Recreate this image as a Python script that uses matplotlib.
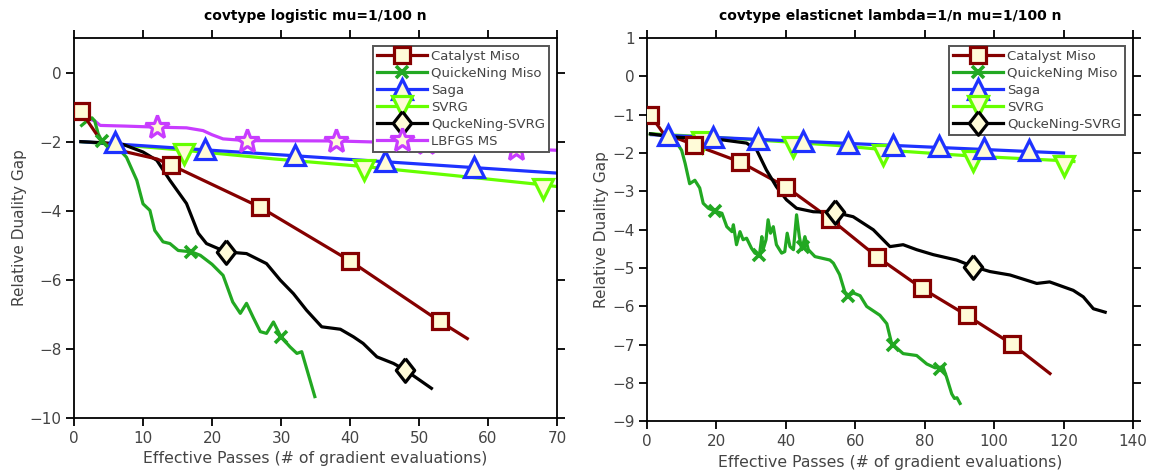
import matplotlib
matplotlib.use("Agg")
import matplotlib.pyplot as plt
from matplotlib.lines import Line2D

plt.rcParams['font.family'] = ['DejaVu Sans']

# ---------------- left: covtype logistic ----------------
cat_l_x = [1, 4, 7.6, 12, 14, 27, 40, 53, 57]
cat_l_y = [-1.12, -2.0, -2.3, -2.5, -2.67, -3.9, -5.45, -7.2, -7.7]
cat_l_mx = [1, 14, 27, 40, 53]
cat_l_my = [-1.12, -2.67, -3.9, -5.45, -7.2]

qm_l_x = [1.1, 2.0, 2.6, 3.0, 3.5, 4.0, 4.5, 5.2, 6.9, 7.6, 9.1, 10.0, 11.0, 11.7,
          12.9, 13.9, 15.1, 17.0, 18.3, 20.0, 21.6, 23.0, 24.1, 25.0, 26.0, 27.0,
          27.9, 28.9, 30.0, 31.3, 32.3, 33.0, 34.9]
qm_l_y = [-1.53, -1.38, -1.31, -1.4, -1.77, -1.97, -2.05, -2.16, -2.3, -2.45, -3.12,
          -3.8, -3.99, -4.57, -4.9, -4.95, -5.15, -5.19, -5.29, -5.55, -5.87, -6.64,
          -6.97, -6.68, -7.1, -7.5, -7.55, -7.22, -7.65, -7.94, -8.13, -8.08, -9.38]
qm_l_mx = [4.0, 17.0, 30.0]
qm_l_my = [-1.97, -5.19, -7.65]

saga_l_x = [1, 70]
saga_l_y = [-2.0, -2.91]
saga_l_mx = [6, 19, 32, 45, 58]
saga_l_my = [-2.02, -2.2, -2.4, -2.57, -2.74]

svrg_l_x = [1, 6, 16, 29, 42, 55, 68, 70]
svrg_l_y = [-2.0, -2.08, -2.25, -2.5, -2.72, -2.98, -3.25, -3.3]
svrg_l_mx = [16, 42, 68]
svrg_l_my = [-2.36, -2.83, -3.36]

qs_l_x = [1, 4, 7.1, 10, 12, 13.9, 16.3, 18.0, 19.2, 22, 25, 27.9, 29.9, 31.8, 33.7,
          35.9, 38.6, 40.5, 41.9, 43.9, 46.3, 48, 51.8]
qs_l_y = [-2.0, -2.03, -2.08, -2.3, -2.54, -3.12, -3.79, -4.65, -4.95, -5.19, -5.24,
          -5.53, -6.01, -6.4, -6.88, -7.36, -7.43, -7.65, -7.84, -8.23, -8.42, -8.61,
          -9.14]
qs_l_mx = [22, 48]
qs_l_my = [-5.19, -8.61]

lb_l_x = [2, 3, 3.8, 7.5, 12, 16.3, 18.7, 20, 21.6, 25, 38, 51, 64, 70]
lb_l_y = [-1.33, -1.4, -1.53, -1.55, -1.58, -1.6, -1.68, -1.8, -1.92, -1.97, -1.98,
          -2.05, -2.2, -2.25]
lb_l_mx = [12, 25, 38, 51, 64]
lb_l_my = [-1.58, -1.97, -1.98, -2.05, -2.2]

# ---------------- right: covtype elasticnet ----------------
cat_r_x = [0.9, 4.7, 13.5, 26.8, 40.2, 52.7, 66.2, 79.1, 92.1, 105.3, 116.1]
cat_r_y = [-1.0, -1.48, -1.78, -2.23, -2.89, -3.71, -4.7, -5.52, -6.23, -6.99, -7.75]
cat_r_mx = [0.9, 13.5, 26.8, 40.2, 52.7, 66.2, 79.1, 92.1, 105.3]
cat_r_my = [-1.0, -1.78, -2.23, -2.89, -3.71, -4.7, -5.52, -6.23, -6.99]

qm_r_x = [1, 4, 7.5, 10, 11, 12.3, 13.8, 15.2, 16.2, 17.7, 19.7, 21.6, 23.0, 24.5,
          24.9, 25.8, 26.8, 27.7, 28.7, 30.1, 31.1, 32.4, 33.1, 33.5, 34.3, 34.9,
          35.6, 36.4, 37.3, 38.8, 39.7, 40.4, 41.2, 42.2, 43.1, 43.9, 44.6, 45.5,
          46.5, 48.4, 52.7, 53.7, 55.5, 57.0, 58.0, 59.5, 61.4, 63.3, 67.1, 69.1,
          70.5, 73.8, 77.7, 80.6, 83.0, 85.3, 86.3, 87.8, 88.6, 89.3, 90.2]
qm_r_y = [-1.5, -1.52, -1.58, -1.93, -2.27, -2.8, -2.71, -2.91, -3.31, -3.44, -3.52,
          -3.57, -3.92, -4.05, -3.87, -4.39, -4.05, -4.26, -4.22, -4.48, -4.61, -4.66,
          -4.18, -4.5, -4.26, -3.74, -4.09, -3.92, -4.39, -4.61, -4.57, -4.09, -4.44,
          -4.52, -3.61, -4.18, -4.52, -4.18, -4.52, -4.7, -4.79, -4.87, -5.17, -5.62,
          -5.72, -5.65, -5.72, -6.0, -6.23, -6.45, -6.97, -7.23, -7.28, -7.5, -7.6,
          -7.58, -7.84, -8.28, -8.4, -8.38, -8.53]
qm_r_mx = [19.7, 32.4, 45.0, 58.0, 71.0, 84.4]
qm_r_my = [-3.52, -4.66, -4.45, -5.72, -7.0, -7.62]

saga_r_x = [1.3, 56, 120]
saga_r_y = [-1.52, -1.74, -2.0]
saga_r_mx = [6, 19, 32, 45, 58, 71, 84, 97, 110]
saga_r_my = [-1.53, -1.59, -1.64, -1.69, -1.75, -1.8, -1.82, -1.87, -1.92]

svrg_r_x = [1, 16, 42, 56, 73, 94, 120, 123]
svrg_r_y = [-1.5, -1.57, -1.72, -1.81, -1.95, -2.08, -2.2, -2.22]
svrg_r_mx = [16, 42, 68, 94, 120]
svrg_r_my = [-1.71, -1.84, -2.04, -2.22, -2.35]

qs_r_x = [1, 7.5, 22, 28.7, 31.6, 34.4, 37.3, 40.2, 43.1, 47.9, 54.2, 59.4, 65.2, 70,
          73.8, 77.7, 82.5, 89.2, 94, 98.8, 104.6, 112.3, 116, 122.8, 125.7, 128.6, 132]
qs_r_y = [-1.5, -1.58, -1.66, -1.74, -1.92, -2.44, -2.88, -3.22, -3.44, -3.53, -3.55,
          -3.66, -4.0, -4.44, -4.39, -4.52, -4.65, -4.79, -4.96, -5.09, -5.18, -5.4,
          -5.36, -5.58, -5.75, -6.06, -6.15]
qs_r_mx = [54.2, 94]
qs_r_my = [-3.55, -4.96]

# styles
FACE = '#fffbd8'
diamond = [(0, 1), (0.78, 0), (0, -1), (-0.78, 0), (0, 1)]
styles = {
    'Catalyst Miso':   dict(color='#850000', marker='s', ms=11),
    'QuickeNing Miso': dict(color='#22a822', marker='x', ms=9),
    'Saga':            dict(color='#1e32ff', marker='^', ms=14),
    'SVRG':            dict(color='#66ff00', marker='v', ms=14),
    'QuckeNing-SVRG':  dict(color='#000000', marker=diamond, ms=17),
    'LBFGS MS':        dict(color='#c83cff', marker='*', ms=18),
}


def mew_of(st):
    return 2.6 if st['marker'] == 'x' else 2.3


def draw(ax, name, x, y, mx, my):
    st = styles[name]
    ax.plot(x, y, color=st['color'], lw=2.3, solid_joinstyle='round', zorder=2)
    ax.plot(mx, my, ls='none', marker=st['marker'], ms=st['ms'], mec=st['color'],
            mfc=FACE, mew=mew_of(st), zorder=3)


def handles(names):
    out = []
    for n in names:
        st = styles[n]
        out.append(Line2D([], [], color=st['color'], lw=2.3, marker=st['marker'],
                          ms=st['ms'], mec=st['color'], mfc=FACE,
                          mew=mew_of(st), label=n))
    return out


def style_axes(ax, title, xmax, xstep, ymin, ymax, ystep):
    ax.set_xlim(0, xmax)
    ax.set_ylim(ymin, ymax)
    ax.set_xticks(range(0, xmax + 1, xstep))
    if ystep == 1:
        ax.set_yticks(range(ymin, ymax + 1, ystep))
    else:
        ax.set_yticks(range(ymin, 1, ystep))
    ax.tick_params(direction='out', length=6, width=1.3, top=True, right=True,
                   labelsize=11, labelcolor='#444444', pad=3)
    for s in ax.spines.values():
        s.set_linewidth(1.3)
    ax.set_title(title, fontsize=10, fontweight='bold', pad=13)
    ax.set_xlabel('Effective Passes (# of gradient evaluations)', fontsize=11.3,
                  color='#444444', labelpad=4)
    ax.set_ylabel('Relative Duality Gap', fontsize=11, color='#444444', labelpad=2)


fig = plt.figure(figsize=(11.53, 4.74), dpi=100)
ax1 = fig.add_axes([0.0642, 0.1181, 0.4189, 0.8017])
ax2 = fig.add_axes([0.5611, 0.1108, 0.4215, 0.8090])

draw(ax1, 'LBFGS MS', lb_l_x, lb_l_y, lb_l_mx, lb_l_my)
draw(ax1, 'SVRG', svrg_l_x, svrg_l_y, svrg_l_mx, svrg_l_my)
draw(ax1, 'Saga', saga_l_x, saga_l_y, saga_l_mx, saga_l_my)
draw(ax1, 'QuckeNing-SVRG', qs_l_x, qs_l_y, qs_l_mx, qs_l_my)
draw(ax1, 'QuickeNing Miso', qm_l_x, qm_l_y, qm_l_mx, qm_l_my)
draw(ax1, 'Catalyst Miso', cat_l_x, cat_l_y, cat_l_mx, cat_l_my)
style_axes(ax1, 'covtype logistic mu=1/100 n', 70, 10, -10, 1, 2)

draw(ax2, 'SVRG', svrg_r_x, svrg_r_y, svrg_r_mx, svrg_r_my)
draw(ax2, 'Saga', saga_r_x, saga_r_y, saga_r_mx, saga_r_my)
draw(ax2, 'QuickeNing Miso', qm_r_x, qm_r_y, qm_r_mx, qm_r_my)
draw(ax2, 'Catalyst Miso', cat_r_x, cat_r_y, cat_r_mx, cat_r_my)
draw(ax2, 'QuckeNing-SVRG', qs_r_x, qs_r_y, qs_r_mx, qs_r_my)
style_axes(ax2, 'covtype elasticnet lambda=1/n mu=1/100 n', 140, 20, -9, 1, 1)

names = ['Catalyst Miso', 'QuickeNing Miso', 'Saga', 'SVRG', 'QuckeNing-SVRG', 'LBFGS MS']
for ax, nn in ((ax1, names), (ax2, names[:5])):
    leg = ax.legend(handles=handles(nn), loc='upper right', fontsize=9.5,
                    handlelength=3.8, handletextpad=0.3, labelspacing=0.3,
                    borderpad=0.3, borderaxespad=0.6, fancybox=False, framealpha=1,
                    edgecolor='#555555', markerscale=1.0)
    leg.set_zorder(10)
    leg.get_frame().set_linewidth(1.4)
    for t in leg.get_texts():
        t.set_color('#444444')

fig.savefig('out.png', dpi=100)
